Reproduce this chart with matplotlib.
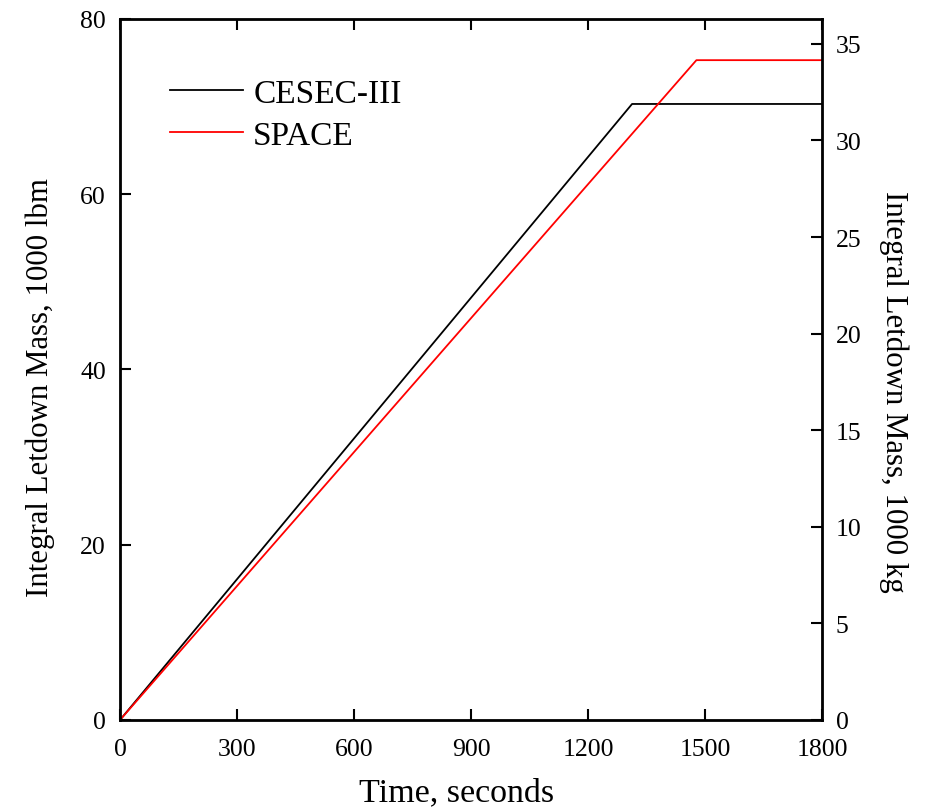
import numpy as np
import matplotlib.pyplot as plt

plt.rcParams['font.family'] = ['Liberation Serif', 'DejaVu Serif']
plt.rcParams['mathtext.fontset'] = 'stix'

# time (s) vs integral letdown mass (1000 lbm)
cesec_t = [0, 1313, 1800]
cesec_m = [0, 70.3, 70.3]
space_t = [0, 1478, 1800]
space_m = [0, 75.3, 75.3]

LBM_TO_KG = 0.45359237

fig = plt.figure(figsize=(9.36, 8.12), dpi=100)
ax = fig.add_axes([0.1282, 0.1121, 0.75, 0.8633])

ax.plot(cesec_t, cesec_m, color='k', lw=1.3, label='CESEC-III')
ax.plot(space_t, space_m, color='#ff0000', lw=1.3, label='SPACE')

ax.set_xlim(0, 1800)
ax.set_ylim(0, 80)
ax.set_xticks(np.arange(0, 1801, 300))
ax.set_yticks(np.arange(0, 81, 20))
ax.tick_params(direction='in', length=8, width=1.5, labelsize=18.5, top=True, pad=13)
ax.tick_params(axis='y', pad=10)
for s in ax.spines.values():
    s.set_linewidth(2)

ax.set_xlabel('Time, seconds', fontsize=24.5, labelpad=12)
ax.xaxis.label.set_x(0.48)
ax.set_ylabel('Integral Letdown Mass, 1000 lbm', fontsize=22.2, labelpad=18)
ax.yaxis.label.set_y(0.476)

ax2 = ax.twinx()
ax2.set_ylim(0, 80 * LBM_TO_KG)
ax2.set_yticks(np.arange(0, 36, 5))
ax2.tick_params(direction='in', length=8, width=1.5, labelsize=18.5, pad=10)
ax2.set_ylabel('Integral Letdown Mass, 1000 kg', fontsize=22.2, rotation=270, labelpad=34)
ax2.yaxis.label.set_y(0.469)

leg = ax.legend(loc='upper left', bbox_to_anchor=(0.071, 0.915), frameon=False,
                borderpad=0, borderaxespad=0,
                fontsize=24, handlelength=2.2, handletextpad=0.3, labelspacing=0.33)

fig.savefig('out.png', dpi=100)
